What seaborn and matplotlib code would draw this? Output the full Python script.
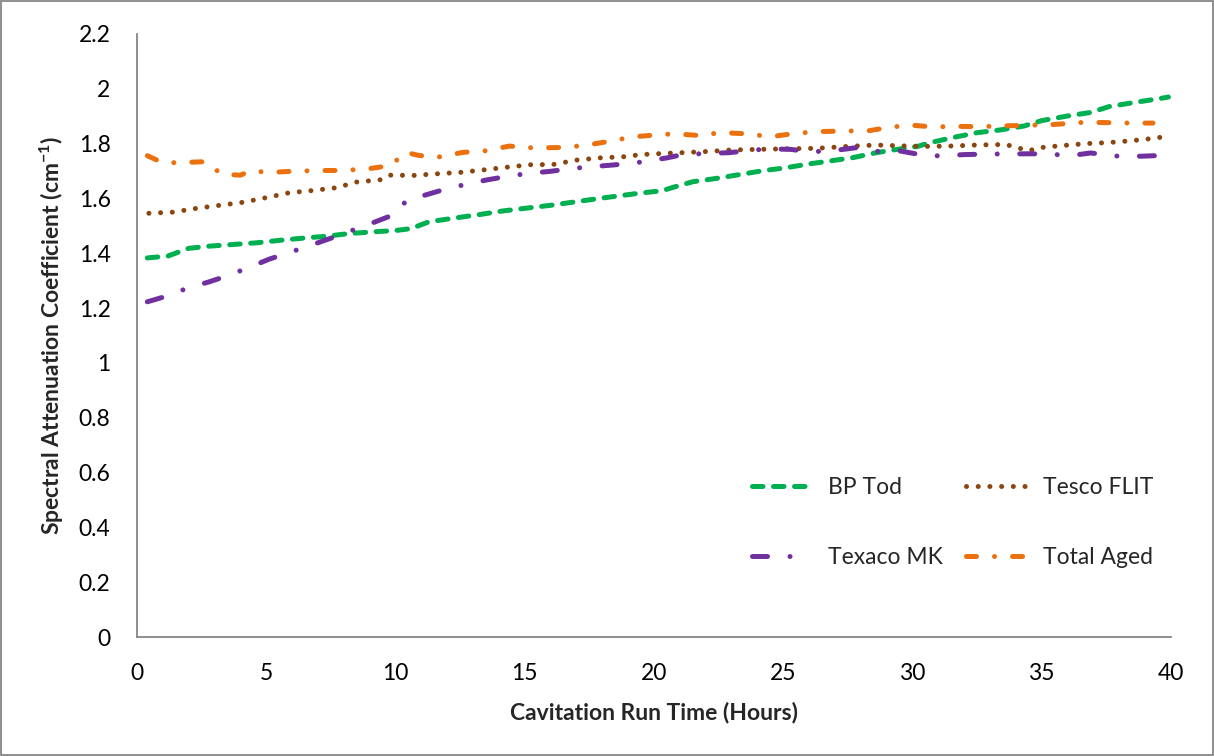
import matplotlib
matplotlib.use("Agg")
import matplotlib.pyplot as plt
import seaborn as sns
import numpy as np
import pandas as pd
from matplotlib.patches import Rectangle

# ---------------- data ----------------
bp_x = [0.4, 1.2, 2.0, 2.8, 3.7, 4.6, 5.5, 6.4, 7.3, 8.2, 9.1, 10.0, 10.6, 11.3, 12.4, 13.3,
        14.2, 15.1, 16.0, 16.9, 17.8, 18.6, 19.5, 20.3, 20.9, 21.5, 22.4, 23.3, 24.2, 25.1,
        26.0, 26.9, 27.7, 28.6, 29.4, 30.2, 30.7, 31.6, 32.5, 33.4, 34.3, 35.0, 36.0, 36.9,
        37.6, 38.5, 39.6, 39.9]
bp_y = [1.383, 1.39, 1.418, 1.426, 1.432, 1.438, 1.447, 1.455, 1.462, 1.472, 1.478, 1.483,
        1.49, 1.515, 1.53, 1.542, 1.555, 1.565, 1.575, 1.587, 1.599, 1.609, 1.62, 1.628,
        1.645, 1.661, 1.673, 1.687, 1.701, 1.712, 1.726, 1.738, 1.749, 1.767, 1.779, 1.79,
        1.804, 1.823, 1.84, 1.85, 1.864, 1.884, 1.901, 1.914, 1.935, 1.949, 1.965, 1.97]

tesco_x = [0.46, 1.4, 2.3, 3.2, 4.1, 5.0, 5.9, 6.8, 7.7, 8.5, 9.4, 9.8, 10.7, 11.6, 12.5,
           13.4, 14.3, 15.2, 16.1, 17.0, 17.9, 18.8, 19.5, 20.3, 21.3, 22.2, 23.0, 24.0,
           25.0, 26.3, 27.5, 28.6, 29.5, 30.5, 31.4, 32.5, 33.6, 34.5, 34.9, 35.8, 36.7,
           37.6, 38.5, 39.5, 39.9]
tesco_y = [1.546, 1.55, 1.564, 1.575, 1.586, 1.603, 1.621, 1.629, 1.639, 1.66, 1.668, 1.685,
           1.684, 1.69, 1.695, 1.704, 1.714, 1.723, 1.724, 1.74, 1.748, 1.752, 1.76, 1.764,
           1.768, 1.772, 1.777, 1.779, 1.781, 1.783, 1.79, 1.795, 1.792, 1.79, 1.791, 1.795,
           1.797, 1.774, 1.785, 1.793, 1.8, 1.804, 1.811, 1.821, 1.831]

texaco_x = [0.4, 1.2, 1.9, 2.8, 3.5, 4.3, 5.1, 5.8, 6.6, 7.5, 8.1, 8.9, 9.8, 10.1, 10.4,
            11.1, 12.0, 12.8, 13.5, 14.4, 15.2, 16.0, 16.8, 17.6, 18.4, 19.3, 20.5, 21.1,
            22.0, 22.9, 23.6, 24.4, 25.3, 26.0, 26.9, 27.8, 28.4, 29.3, 30.0, 30.6, 31.2,
            32.0, 33.0, 34.5, 35.3, 36.1, 36.9, 37.8, 38.5, 39.4]
texaco_y = [1.223, 1.245, 1.271, 1.296, 1.318, 1.347, 1.378, 1.4, 1.425, 1.455, 1.476,
            1.503, 1.536, 1.548, 1.592, 1.611, 1.636, 1.653, 1.667, 1.682, 1.692, 1.699,
            1.709, 1.716, 1.722, 1.73, 1.748, 1.76, 1.764, 1.767, 1.774, 1.781, 1.779, 1.77,
            1.774, 1.785, 1.77, 1.777, 1.765, 1.755, 1.756, 1.76, 1.762, 1.763, 1.762, 1.756,
            1.766, 1.755, 1.753, 1.756]

total_x = [0.4, 1.0, 1.7, 2.6, 3.3, 4.0, 4.4, 5.1, 6.0, 7.0, 8.0, 9.0, 9.8, 10.4, 10.9,
           11.6, 12.6, 13.5, 14.4, 15.4, 16.4, 17.3, 18.3, 19.2, 20.0, 20.8, 21.7, 22.6,
           23.6, 24.5, 25.5, 26.4, 27.3, 28.3, 29.2, 30.0, 30.8, 31.7, 32.7, 33.6, 34.5,
           35.5, 36.5, 37.4, 38.4, 39.3]
total_y = [1.756, 1.73, 1.731, 1.734, 1.688, 1.685, 1.701, 1.695, 1.699, 1.702, 1.702,
           1.709, 1.72, 1.768, 1.757, 1.75, 1.768, 1.774, 1.791, 1.784, 1.786, 1.793, 1.809,
           1.825, 1.831, 1.836, 1.83, 1.84, 1.836, 1.825, 1.838, 1.844, 1.846, 1.847, 1.861,
           1.867, 1.861, 1.863, 1.862, 1.865, 1.867, 1.87, 1.877, 1.877, 1.875, 1.875]

series_names = ["BP Tod", "Tesco FLIT", "Texaco MK", "Total Aged"]
x_ticks = [0, 5, 10, 15, 20, 25, 30, 35, 40]
y_ticks = [0, 0.2, 0.4, 0.6, 0.8, 1.0, 1.2, 1.4, 1.6, 1.8, 2.0, 2.2]
x_label = "Cavitation Run Time (Hours)"
y_label = "Spectral Attenuation Coefficient (cm$^{-1}$)"

# ---------------- style ----------------
sns.set_theme(style="white")
plt.rcParams['font.family'] = ['Lato', 'DejaVu Sans']
plt.rcParams['mathtext.default'] = 'regular'

fig = plt.figure(figsize=(12.14, 7.56), dpi=100)
ax = fig.add_axes([137/1214, 1-637/756, (1171-137)/1214, (637-34)/756])

colors = {"BP Tod": "#00B050", "Tesco FLIT": "#8B460F",
          "Texaco MK": "#7030A0", "Total Aged": "#EB710F"}
lw = 3.6
styles = {"BP Tod": (0, (2.1, 2.1)),
          "Tesco FLIT": (0, (0.01, 2.33)),
          "Texaco MK": (0, (3.0, 4.5, 0.01, 4.5)),
          "Total Aged": (0, (2.0, 3.6, 0.01, 3.6))}
data = {"BP Tod": (bp_x, bp_y), "Tesco FLIT": (tesco_x, tesco_y),
        "Texaco MK": (texaco_x, texaco_y), "Total Aged": (total_x, total_y)}

handles = {}
for name in series_names:
    xs, ys = data[name]
    df = pd.DataFrame({"x": xs, "y": ys})
    n_before = len(ax.lines)
    sns.lineplot(data=df, x="x", y="y", ax=ax, color=colors[name], lw=lw,
                 linestyle=styles[name], label=name, sort=False, estimator=None)
    ln = ax.lines[n_before]
    ln.set_dash_capstyle('round')
    ln.set_solid_capstyle('round')
    handles[name] = ln

ax.set_xlim(0, 40)
ax.set_ylim(0, 2.2)
ax.set_xticks(x_ticks)
ax.set_yticks(y_ticks)
ax.set_xticklabels([f"{v:g}" for v in x_ticks])
ax.set_yticklabels([f"{v:g}" for v in y_ticks])

axis_col = "#868686"
for s in ["top", "right"]:
    ax.spines[s].set_visible(False)
for s in ["left", "bottom"]:
    ax.spines[s].set_color(axis_col)
    ax.spines[s].set_linewidth(1.3)
ax.tick_params(axis='both', which='major', direction='out', length=6, width=1.3,
               color=axis_col, labelcolor='black', labelsize=16.5)
ax.tick_params(axis='y', pad=13)
ax.tick_params(axis='x', pad=12.5)
ax.grid(False)

ax.set_xlabel(x_label, fontsize=16.5, fontweight='bold', labelpad=13)
ax.set_ylabel(y_label, fontsize=16.5, fontweight='bold', labelpad=9)

order = ["BP Tod", "Texaco MK", "Tesco FLIT", "Total Aged"]
leg = ax.legend([handles[n] for n in order], order, ncol=2, frameon=False,
                fontsize=16.5, handlelength=2.6, handletextpad=0.75,
                columnspacing=1.0, labelspacing=2.15,
                loc='upper left', bbox_to_anchor=((731-137)/1034, (637-456)/603))

fig.patches.append(Rectangle((1/1214, 1/756), 1-2/1214, 1-2/756, transform=fig.transFigure,
                             fill=False, edgecolor="#868686", linewidth=1.3))

fig.savefig("out.png", dpi=100, facecolor="white")
